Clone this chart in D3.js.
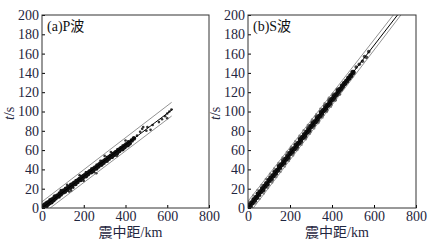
<!DOCTYPE html>
<html>
<head>
<meta charset="utf-8">
<script src="https://cdn.jsdelivr.net/npm/d3@7"></script>
<style>
  body { margin: 0; background: #fff; }
  text { font-family: "Liberation Serif", "Noto Sans CJK SC", serif; }
</style>
</head>
<body>
<div id="chart"></div>
<script>
// ---- data ----
const xTicks = [0, 200, 400, 600, 800];
const yTicks = [0, 20, 40, 60, 80, 100, 120, 140, 160, 180, 200];

// P wave: fit line and the two bound lines [distance km, time s]
const pFit = [[0, 0], [626, 102.3]];
const pUpper = [[0, 6.5], [621, 109.5]];
const pLower = [[39, 0], [621, 95.3]];
// dense core of P picks
const pCore = [[3,0.5],[8,2.5],[12,1],[15,3.5],[20,2],[22,5],[28,4],[30,6],[35,5],[40,8],[45,6],[50,9],[55,8],[60,11],
  [65,10],[70,12],[75,13],[80,12],[85,15],[90,14],[95,17],[100,16],[105,18],[110,17],[115,20],[120,19],[125,21],
  [130,22],[135,21],[140,24],[145,23],[150,25],[155,26],[160,25],[165,28],[170,27],[175,29],[180,30],[185,29],
  [190,32],[195,31],[200,33],[205,34],[210,33],[215,36],[220,35],[225,37],[230,38],[235,37],[240,40],[245,39],
  [250,41],[255,42],[260,41],[265,44],[270,43],[275,45],[280,46],[285,45],[290,48],[295,47],[300,49],[305,50],
  [310,49],[315,52],[320,51],[325,53],[330,54],[335,53],[340,56],[345,55],[350,57],[355,58],[360,57],[365,60],
  [370,59],[375,61],[380,62],[385,61],[390,64],[395,63],[400,65],[405,66],[410,65],[415,68],[420,67],[430,70],[440,72]];
// scattered P picks
const pScatter = [[10,4],[25,1.5],[60,13],[90,18.5],[120,24],[130,17],[140,18],[150,21],[180,34],[200,28],[210,37],
  [250,37],[260,36],[280,49],[300,54],[330,58],[360,54],[400,70],[440,73],[455,75],[470,79],[480,82],[485,84],
  [500,80],[505,84],[520,81],[530,86],[560,89],[575,92],[590,95],[600,93],[600,98],[610,100],[620,102]];

// S wave
const sFit = [[0, 0], [712, 200]];
const sUpper = [[0, 7], [692, 200]];
const sLower = [[25, 0], [728, 200]];
const sCore = [[3,0.5],[10,3],[20,5.5],[30,8.5],[40,11],[50,14.5],[60,17],[70,19.5],[80,22.5],[90,25],[100,28.5],
  [110,31],[120,33.5],[130,36.5],[140,39],[150,42.5],[160,45],[170,47.5],[180,50.5],[190,53],[200,56.5],[210,59],
  [220,61.5],[230,64.5],[240,67],[250,70.5],[260,73],[270,75.5],[280,78.5],[290,81],[300,84.5],[310,87],
  [320,89.5],[330,92.5],[340,95],[350,98.5],[360,101],[370,103.5],[380,106.5],[390,109],[400,112.5],[410,115],
  [420,117.5],[430,121],[440,123],[450,126.5],[460,129],[470,131.5],[480,134.5],[490,137],[500,140.5]];
const sScatter = [[5,4],[15,1],[25,9],[35,7],[45,15],[55,13],[65,21],[75,18],[85,26],[95,24],[105,32],[115,29],
  [125,38],[135,35],[145,44],[155,41],[165,50],[175,46],[185,55],[195,51],[205,61],[215,57],[225,66],[235,62],
  [245,72],[255,68],[265,77],[275,73],[285,83],[295,79],[305,89],[315,85],[325,95],[335,90],[345,100],[355,96],
  [365,106],[375,101],[385,112],[395,107],[405,117],[415,112],[425,123],[435,118],[450,124],[515,146],[530,149],
  [545,152],[555,157],[565,156],[575,162]];
// outer, lighter S picks
const sOuter = [[5,6.5],[15,0.2],[25,13],[35,4.8],[45,18.6],[55,9.5],[65,24],[75,15],[85,30],[95,20.7],[105,35.5],
  [115,26.3],[125,41],[135,32],[145,46.7],[155,37.5],[165,52.4],[175,43],[185,58],[195,48.8],[205,63.6],[215,54.4],
  [225,69.2],[235,60],[245,74.8],[255,65.6],[265,80.5],[275,71.3],[285,86],[295,76.9],[305,91.7],[315,82.5],
  [325,97.3],[335,88],[345,103],[355,93.8],[365,108.6],[375,99.4],[385,114.2],[395,105],[405,118.8],[415,111.6],
  [425,123.4],[435,118]];

const W = 430, H = 242;
const panels = [
  { title: "(a)P波", left: 42, right: 209, fit: pFit, upper: pUpper, lower: pLower,
    core: pCore, scatter: pScatter, outer: [], coreR: 2.3 },
  { title: "(b)S波", left: 248, right: 416, fit: sFit, upper: sUpper, lower: sLower,
    core: sCore, scatter: sScatter, outer: sOuter, coreR: 2.7 }
];
const plotTop = 15, plotBottom = 208;

const svg = d3.select("#chart").append("svg")
  .attr("width", W).attr("height", H)
  .style("background", "#fff");

panels.forEach((p, i) => {
  const x = d3.scaleLinear().domain([0, 800]).range([p.left, p.right]);
  const y = d3.scaleLinear().domain([0, 200]).range([plotBottom, plotTop]);

  const clipId = "clip" + i;
  svg.append("clipPath").attr("id", clipId)
    .append("rect").attr("x", p.left).attr("y", plotTop)
    .attr("width", p.right - p.left).attr("height", plotBottom - plotTop);

  const g = svg.append("g").attr("clip-path", `url(#${clipId})`);
  const line = d3.line().x(d => x(d[0])).y(d => y(d[1]));

  // picks: outer grey, scattered, then dense core
  g.selectAll("circle.out").data(p.outer).enter().append("circle")
    .attr("cx", d => x(d[0])).attr("cy", d => y(d[1]))
    .attr("r", 1.2).attr("fill", "#888");
  g.selectAll("circle.sc").data(p.scatter).enter().append("circle")
    .attr("cx", d => x(d[0])).attr("cy", d => y(d[1]))
    .attr("r", i === 1 ? 1.8 : 1.3).attr("fill", i === 1 ? "#444" : "#333");
  g.selectAll("circle.core").data(p.core).enter().append("circle")
    .attr("cx", d => x(d[0])).attr("cy", d => y(d[1]))
    .attr("r", p.coreR).attr("fill", "#111");

  [p.upper, p.lower].forEach(b => {
    g.append("path").datum(b).attr("d", line)
      .attr("fill", "none").attr("stroke", "#777").attr("stroke-width", 0.8);
  });
  g.append("path").datum(p.fit).attr("d", line)
    .attr("fill", "none").attr("stroke", "#000").attr("stroke-width", 1);

  // axes with inward ticks
  svg.append("g").attr("transform", `translate(0,${plotBottom})`)
    .call(d3.axisBottom(x).tickValues(xTicks).tickSizeInner(-3).tickSizeOuter(0).tickPadding(3))
    .call(a => a.select(".domain").remove())
    .call(a => a.selectAll("text").attr("font-size", 14).attr("fill", "#1f2640")
      .attr("font-family", "Liberation Serif"));
  svg.append("g").attr("transform", `translate(${p.left},0)`)
    .call(d3.axisLeft(y).tickValues(yTicks).tickSizeInner(-3).tickSizeOuter(0).tickPadding(3))
    .call(a => a.select(".domain").remove())
    .call(a => a.selectAll("text").attr("font-size", 14).attr("fill", "#1f2640")
      .attr("font-family", "Liberation Serif"));

  svg.append("rect").attr("x", p.left).attr("y", plotTop)
    .attr("width", p.right - p.left).attr("height", plotBottom - plotTop)
    .attr("fill", "none").attr("stroke", "#333").attr("stroke-width", 1);

  svg.append("text").attr("x", p.left + 5).attr("y", plotTop + 16)
    .attr("font-size", 14).attr("fill", "#111").text(p.title);

  svg.append("text").attr("x", (p.left + p.right) / 2 + 5).attr("y", 237)
    .attr("text-anchor", "middle").attr("font-size", 14).attr("fill", "#1f2640")
    .text("震中距/km");

  const yl = svg.append("text")
    .attr("transform", `translate(${p.left - 28},${(plotTop + plotBottom) / 2 + 2}) rotate(-90)`)
    .attr("text-anchor", "middle").attr("font-size", 14).attr("fill", "#1f2640");
  yl.append("tspan").attr("font-style", "italic").text("t");
  yl.append("tspan").text("/s");
});
</script>
</body>
</html>
